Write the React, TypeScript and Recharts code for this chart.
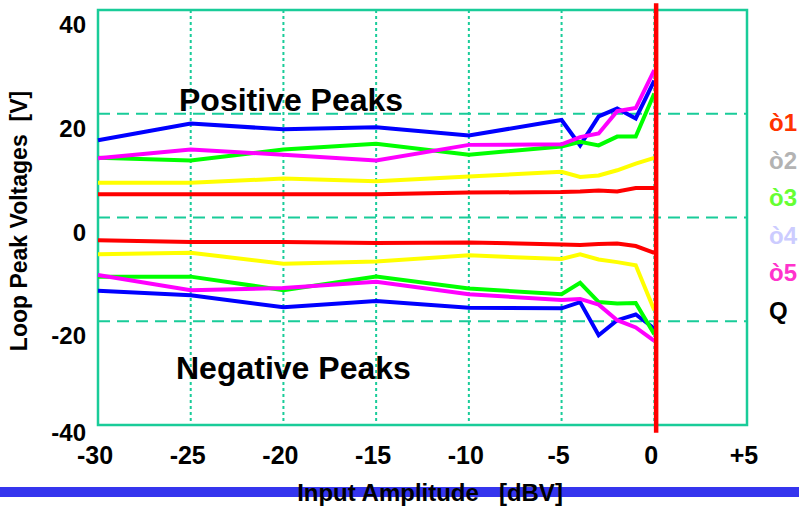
import { ComposedChart, Line, XAxis, YAxis, CartesianGrid, ReferenceLine, ReferenceArea } from 'recharts'

const inputDbv = [-30, -25, -20, -15, -10, -5, -4, -3, -2, -1, 0]

// loop peak voltages, positive and negative half, per curve
const redPos = [4.5, 4.5, 4.5, 4.5, 4.8, 4.9, 5.0, 5.2, 5.0, 5.7, 5.7]
const redNeg = [-4.4, -4.7, -4.7, -4.9, -4.8, -5.2, -5.3, -5.1, -5.0, -5.5, -6.8]
const yellowPos = [6.7, 6.7, 7.5, 7.0, 7.9, 8.8, 7.8, 8.1, 9.1, 10.4, 11.5]
const yellowNeg = [-7.1, -6.8, -8.9, -8.5, -7.3, -8.0, -7.1, -8.1, -8.6, -9.2, -17.9]
const greenPos = [11.5, 11.0, 13.1, 14.2, 12.1, 13.7, 14.6, 13.9, 15.6, 15.6, 23.9]
const greenNeg = [-11.4, -11.4, -14.0, -11.4, -13.7, -14.8, -12.6, -16.3, -16.6, -16.5, -22.5]
const magentaPos = [11.4, 13.1, 12.1, 11.0, 14.0, 14.1, 15.5, 16.2, 20.5, 21.1, 28.4]
const magentaNeg = [-11.1, -14.0, -13.6, -12.4, -14.8, -15.9, -15.7, -16.8, -19.8, -21.2, -23.8]
const bluePos = [14.9, 18.1, 17.0, 17.4, 15.8, 18.8, 13.9, 19.5, 21.0, 19.1, 26.4]
const blueNeg = [-14.1, -15.0, -17.3, -16.1, -17.4, -17.5, -16.3, -22.7, -19.8, -18.7, -21.4]

// the clipped trace jumps straight down just past 0 dBV
const clipX = 0.1
const clipTop = 41.3
const clipBottom = -41.5

const xTicks = [-30, -25, -20, -15, -10, -5, 0, 5]
const yTicks = [-40, -20, 0, 20, 40]
const legendItems = [
  { label: 'ò1', color: '#ff3300' },
  { label: 'ò2', color: '#b3b3b3' },
  { label: 'ò3', color: '#66ff33' },
  { label: 'ò4', color: '#ccccff' },
  { label: 'ò5', color: '#ff33cc' },
  { label: 'Q', color: '#000000' },
]

const series = [
  { key: 'bluePos', values: bluePos, color: '#0000ff' },
  { key: 'blueNeg', values: blueNeg, color: '#0000ff' },
  { key: 'greenPos', values: greenPos, color: '#00ff00' },
  { key: 'greenNeg', values: greenNeg, color: '#00ff00' },
  { key: 'magentaPos', values: magentaPos, color: '#ff00ff' },
  { key: 'magentaNeg', values: magentaNeg, color: '#ff00ff' },
  { key: 'yellowPos', values: yellowPos, color: '#ffff00' },
  { key: 'yellowNeg', values: yellowNeg, color: '#ffff00' },
  { key: 'redPos', values: redPos, color: '#ff0000' },
  { key: 'redNeg', values: redNeg, color: '#ff0000' },
]

const data = inputDbv.map((x, i) => {
  const row: Record<string, number> = { x }
  series.forEach((s) => (row[s.key] = s.values[i]))
  return row
})

const FONT = '"Liberation Sans", Arial, sans-serif'
const TEAL = '#19cc99'

function XTick({ x, y, payload }: any) {
  const v = payload.value as number
  return (
    <text x={x - 3} y={y + 31} textAnchor="middle" fontFamily={FONT} fontWeight="bold" fontSize={25} fill="#000">
      {v > 0 ? `+${v}` : v}
    </text>
  )
}

function YTick({ x, y, payload }: any) {
  return (
    <text x={x - 4} y={Math.min(y + 23, 441)} textAnchor="end" fontFamily={FONT} fontWeight="bold" fontSize={24} fill="#000">
      {payload.value}
    </text>
  )
}

export default function App() {
  return (
    <div style={{ position: 'absolute', left: 0, top: 0, width: 799, height: 508, background: '#fff', fontFamily: FONT }}>
      <ComposedChart width={799} height={508} data={data} margin={{ top: 10, right: 52, bottom: 0, left: 0 }}>
        <CartesianGrid horizontal={false} stroke={TEAL} strokeWidth={2} strokeDasharray="3 3" />
        <CartesianGrid vertical={false} stroke={TEAL} strokeWidth={2} strokeDasharray="12 7" />
        <XAxis
          dataKey="x"
          type="number"
          domain={[-30, 5]}
          ticks={xTicks}
          tick={<XTick />}
          axisLine={false}
          tickLine={false}
          height={83}
          interval={0}
        />
        <YAxis
          type="number"
          domain={[-40, 40]}
          ticks={yTicks}
          tick={<YTick />}
          axisLine={false}
          tickLine={false}
          width={98}
          interval={0}
        />
        <ReferenceArea x1={-30} x2={5} y1={-40} y2={40} fill="none" stroke={TEAL} strokeWidth={2.5} ifOverflow="visible" />
        {series.map((s) => (
          <Line
            key={s.key}
            type="linear"
            dataKey={s.key}
            stroke={s.color}
            strokeWidth={4}
            dot={false}
            isAnimationActive={false}
          />
        ))}
        <ReferenceLine
          segment={[{ x: clipX, y: clipTop }, { x: clipX, y: clipBottom }]}
          stroke="#ff0000"
          strokeWidth={4.5}
          ifOverflow="visible"
        />
      </ComposedChart>

      <div style={{ position: 'absolute', left: 179, top: 81, fontSize: 32, fontWeight: 'bold', lineHeight: '38px' }}>
        Positive Peaks
      </div>
      <div style={{ position: 'absolute', left: 176, top: 349, fontSize: 32, fontWeight: 'bold', lineHeight: '38px' }}>
        Negative Peaks
      </div>

      <div
        style={{
          position: 'absolute',
          left: 19,
          top: 221,
          transform: 'translate(-50%, -50%) rotate(-90deg)',
          whiteSpace: 'pre',
          fontSize: 23,
          fontWeight: 'bold',
        }}
      >
        {'Loop Peak Voltages  [V]'}
      </div>

      {legendItems.map((item, i) => (
        <div
          key={item.label}
          style={{
            position: 'absolute',
            left: 769,
            top: 109 + i * 37.5,
            fontSize: 24,
            fontWeight: 'bold',
            lineHeight: '28px',
            color: item.color,
          }}
        >
          {item.label}
        </div>
      ))}

      <div style={{ position: 'absolute', left: 0, top: 487, width: 799, height: 10, background: '#3535ee' }} />
      <div
        style={{
          position: 'absolute',
          left: 430,
          top: 493,
          transform: 'translate(-50%, -50%)',
          whiteSpace: 'pre',
          fontSize: 24,
          fontWeight: 'bold',
        }}
      >
        {'Input Amplitude   [dBV]'}
      </div>
    </div>
  )
}
